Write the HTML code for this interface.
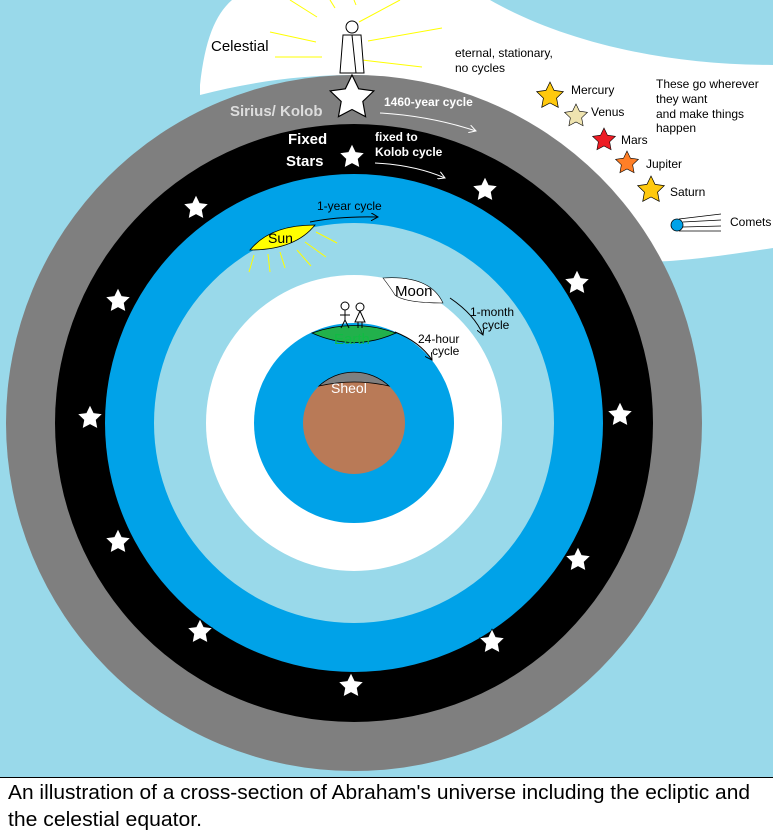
<!DOCTYPE html>
<html><head><meta charset="utf-8"><style>
body{margin:0;width:773px;height:837px;overflow:hidden;background:#fff;font-family:"Liberation Sans",sans-serif}
</style></head><body>
<svg width="773" height="837" xmlns="http://www.w3.org/2000/svg" style="position:absolute;left:0;top:0">
<defs>
<polygon id="st" points="0,-10 2.9,-4 9.5,-3.1 4.7,1.5 5.9,8.1 0,5 -5.9,8.1 -4.7,1.5 -9.5,-3.1 -2.9,-4"/>
<marker id="ah" markerWidth="8" markerHeight="8" refX="7" refY="4" orient="auto"><path d="M0,0 L7,4 L0,8" fill="none" stroke="#fff" stroke-width="1"/></marker>
<marker id="ak" markerWidth="8" markerHeight="8" refX="7" refY="4" orient="auto"><path d="M0,0 L7,4 L0,8" fill="none" stroke="#000" stroke-width="1"/></marker>
</defs>
<rect width="773" height="777" fill="#99d9ea"/>
<path d="M200,85 C205,40 215,15 232,0 L490,0 C560,40 660,65 773,65 L773,248 C720,256 680,262 640,262 C620,250 600,200 560,170 C500,100 420,75 354,75 C300,75 250,82 200,95 Z" fill="#fff"/>
<circle cx="354" cy="423" r="348" fill="#7f7f7f"/>
<circle cx="354" cy="423" r="299" fill="#000"/>
<circle cx="354" cy="423" r="249" fill="#00a2e8"/>
<circle cx="354" cy="423" r="200" fill="#99d9ea"/>
<circle cx="354" cy="423" r="148" fill="#fff"/>
<circle cx="354" cy="423" r="100" fill="#00a2e8"/>
<circle cx="354" cy="423" r="51" fill="#b97a57"/>
<path d="M319,386 A51,51 0 0 1 389,386 Q354,378 319,386Z" fill="#7f7f7f" stroke="#000" stroke-width="0.8"/>
<path d="M312,333 Q354,318 396,333 Q354,352 312,333Z" fill="#22b14c" stroke="#000" stroke-width="0.8"/>
<path d="M250,250 Q270,225 315,225 Q295,250 250,250Z" fill="#ffff00" stroke="#000" stroke-width="0.8"/>
<path d="M383,278 Q430,275 443,303 Q405,303 395,295 Q390,287 383,278Z" fill="#fff" stroke="#000" stroke-width="0.6"/>
<g stroke="#ffff00" stroke-width="1">
<line x1="316" y1="232" x2="337" y2="243"/><line x1="305" y1="242" x2="326" y2="257"/><line x1="297" y1="250" x2="311" y2="266"/>
<line x1="280" y1="252" x2="285" y2="268"/><line x1="268" y1="254" x2="270" y2="272"/><line x1="254" y1="255" x2="249" y2="272"/>
<line x1="290" y1="0" x2="317" y2="17"/><line x1="330" y1="0" x2="335" y2="8"/><line x1="356" y1="5" x2="354" y2="0"/>
<line x1="400" y1="0" x2="359" y2="22"/><line x1="270" y1="32" x2="316" y2="42"/><line x1="442" y1="28" x2="368" y2="41"/>
<line x1="275" y1="57" x2="322" y2="57"/><line x1="362" y1="60" x2="422" y2="67"/>
</g>
<g stroke="#000" fill="#fff" stroke-width="1">
<circle cx="352" cy="27" r="6"/><path d="M343,35 L361,35 L364,73 L340,73Z"/><line x1="352" y1="35" x2="356" y2="73"/>
</g>
<g stroke="#000" fill="none" stroke-width="1">
<circle cx="345" cy="306" r="4"/><line x1="345" y1="310" x2="345" y2="320"/><line x1="341" y1="328" x2="345" y2="320"/><line x1="349" y1="328" x2="345" y2="320"/><line x1="340" y1="315" x2="350" y2="315"/>
<circle cx="360" cy="307" r="4"/><path d="M360,311 L355,322 L365,322Z"/><line x1="358" y1="322" x2="358" y2="328"/><line x1="362" y1="322" x2="362" y2="328"/>
</g>
<g fill="#fff" stroke="#000" stroke-width="0.5">
<use href="#st" transform="translate(352,98) scale(2.3)"/>
<use href="#st" transform="translate(352,157) scale(1.3)"/><use href="#st" transform="translate(485,190) scale(1.3)"/><use href="#st" transform="translate(196,208) scale(1.3)"/><use href="#st" transform="translate(577,283) scale(1.3)"/>
<use href="#st" transform="translate(118,301) scale(1.3)"/><use href="#st" transform="translate(90,418) scale(1.3)"/><use href="#st" transform="translate(620,415) scale(1.3)"/><use href="#st" transform="translate(118,542) scale(1.3)"/>
<use href="#st" transform="translate(578,560) scale(1.3)"/><use href="#st" transform="translate(200,632) scale(1.3)"/><use href="#st" transform="translate(492,642) scale(1.3)"/><use href="#st" transform="translate(351,686) scale(1.3)"/>
</g>
<g stroke="#000" stroke-width="0.5">
<use href="#st" transform="translate(550,96) scale(1.4)" fill="#ffc90e"/>
<use href="#st" transform="translate(576,116) scale(1.2)" fill="#efe4b0"/>
<use href="#st" transform="translate(604,140) scale(1.2)" fill="#ed1c24"/>
<use href="#st" transform="translate(627,163) scale(1.2)" fill="#ff7f27"/>
<use href="#st" transform="translate(651,190) scale(1.4)" fill="#ffc90e"/>
</g>
<circle cx="677" cy="225" r="6" fill="#00a2e8" stroke="#000" stroke-width="0.8"/>
<g stroke="#000" stroke-width="0.8"><line x1="679" y1="219" x2="721" y2="214"/><line x1="683" y1="222" x2="721" y2="220"/><line x1="683" y1="227" x2="721" y2="226"/><line x1="679" y1="231" x2="721" y2="231"/></g>
<g fill="none" stroke-width="1">
<path d="M380,113 Q430,116 476,131" stroke="#fff" marker-end="url(#ah)"/>
<path d="M375,163 Q415,165 445,178" stroke="#fff" marker-end="url(#ah)"/>
<path d="M310,222 Q340,216 378,217" stroke="#000" marker-end="url(#ak)"/>
<path d="M450,298 Q475,315 483,335" stroke="#000" marker-end="url(#ak)"/>
<path d="M395,332 Q420,342 432,360" stroke="#000" marker-end="url(#ak)"/>
</g>
<g font-size="12" fill="#000">
<text x="211" y="51" font-size="15">Celestial</text>
<text x="455" y="57">eternal, stationary,</text>
<text x="455" y="72">no cycles</text>
<text x="571" y="94">Mercury</text>
<text x="591" y="116">Venus</text><text x="621" y="144">Mars</text>
<text x="646" y="168">Jupiter</text>
<text x="670" y="196">Saturn</text>
<text x="730" y="226">Comets</text>
<text x="656" y="88">These go wherever</text><text x="656" y="103">they want</text>
<text x="656" y="118">and make things</text><text x="656" y="132">happen</text>
<text x="230" y="116" font-size="15" font-weight="bold" fill="#ddd">Sirius/ Kolob</text>
<text x="384" y="106" font-weight="bold" fill="#fff">1460-year cycle</text>
<text x="288" y="144" font-size="15" font-weight="bold" fill="#fff">Fixed</text>
<text x="286" y="166" font-size="15" font-weight="bold" fill="#fff">Stars</text>
<text x="375" y="141" font-weight="bold" fill="#fff">fixed to</text>
<text x="375" y="156" font-weight="bold" fill="#fff">Kolob cycle</text>
<text x="317" y="210">1-year cycle</text>
<text x="268" y="243" font-size="14">Sun</text>
<text x="395" y="296" font-size="15">Moon</text>
<text x="470" y="316">1-month</text><text x="482" y="329">cycle</text>
<text x="334" y="344" font-size="15" fill="#1b4">Earth</text>
<text x="418" y="343">24-hour</text><text x="432" y="355">cycle</text>
<text x="331" y="393" font-size="14" fill="#fff">Sheol</text>
</g>
<rect x="0" y="777" width="773" height="60" fill="#fff"/>
<line x1="0" y1="777.5" x2="773" y2="777.5" stroke="#000"/>
<text x="8" y="799" font-size="20" textLength="742" lengthAdjust="spacingAndGlyphs">An illustration of a cross-section of Abraham's universe including the ecliptic and</text>
<text x="8" y="826" font-size="20" textLength="194" lengthAdjust="spacingAndGlyphs">the celestial equator.</text>
</svg>
</body></html>
